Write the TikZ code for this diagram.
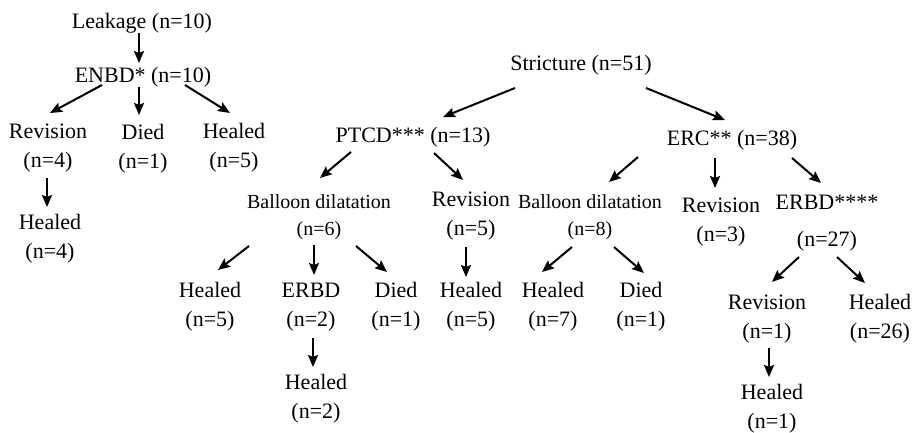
\documentclass[tikz,border=0pt]{standalone}
\usepackage{fontspec}
\setmainfont{Liberation Serif}
\usepackage{tikz}
\usetikzlibrary{arrows.meta, calc}

\begin{document}
\begin{tikzpicture}[
    x=1pt, y=-1pt,
    txt/.style={align=center, inner sep=0pt, font=\fontsize{22}{29}\selectfont},
    small/.style={align=center, inner sep=0pt, font=\fontsize{20}{27}\selectfont},
    conn/.style={black, line width=2pt, -{Stealth[length=12pt, width=10pt, inset=2pt]}}
]
\useasboundingbox (0,0) rectangle (913,433);

% ---------- Leakage ----------
\node[txt] (leak) at (142,23) {Leakage (n=10)};
\node[txt] (enbd) at (143,77) {ENBD* (n=10)};

\node[txt] (rev1)  at (48,148)  {Revision\\(n=4)};
\node[txt] (died1) at (143,149) {Died\\(n=1)};
\node[txt] (heal1) at (234,148) {Healed\\(n=5)};

\node[txt] (heal4) at (50,239) {Healed\\(n=4)};

% ---------- Stricture ----------
\node[txt] (strict) at (581,65) {Stricture (n=51)};
\node[txt] (ptcd) at (413,137) {PTCD*** (n=13)};
\node[txt] (erc)  at (732,140) {ERC** (n=38)};

% PTCD branch
\node[small] (bal6) at (319,217) {Balloon dilatation\\(n=6)};
\node[txt] (rev5)   at (471,216) {Revision\\(n=5)};

\node[txt] (heal5)  at (210,307) {Healed\\(n=5)};
\node[txt] (erbd2)  at (311,307) {ERBD\\(n=2)};
\node[txt] (died2)  at (396,307) {Died\\(n=1)};
\node[txt] (heal5b) at (471,307) {Healed\\(n=5)};

\node[txt] (heal2) at (316,399) {Healed\\(n=2)};

% ERC branch
\node[small] (bal8) at (590,217) {Balloon dilatation\\(n=8)};
\node[txt] (rev3)   at (721,222) {Revision\\(n=3)};
\node[txt] (erbd27) at (827,223) {ERBD****\\[8pt](n=27)};

\node[txt] (heal7) at (553,307) {Healed\\(n=7)};
\node[txt] (died3) at (641,307) {Died\\(n=1)};

\node[txt] (rev1b)  at (767,319) {Revision\\(n=1)};
\node[txt] (heal26) at (880,319) {Healed\\(n=26)};

\node[txt] (heal1b) at (772,409) {Healed\\(n=1)};

% ---------- Connections ----------
\foreach \s/\sx/\sy/\e/\ex/\ey in {
    leak/-3/10/enbd/-4/-14,
    enbd/-41/8/rev1/2/-35,
    enbd/-4/10/died1/-4/-34,
    enbd/42/8/heal1/-4/-35,
    rev1/-1/30/heal4/-3/-32,
    strict/-66/23/ptcd/30/-20,
    strict/65/23/erc/-7/-20,
    ptcd/-62/15/bal6/1/-39,
    ptcd/21/16/rev5/-8/-36,
    erc/-94/17/bal8/19/-35,
    erc/-17/18/rev3/-6/-34,
    erc/60/18/erbd27/-6/-40,
    bal6/-70/29/heal5/8/-37,
    bal6/-5/28/erbd2/3/-32,
    bal6/37/29/died2/-9/-35,
    rev5/-5/31/heal5b/-5/-30,
    bal8/-18/30/heal7/-11/-35,
    bal8/24/30/died3/3/-34,
    erbd27/-28/34/rev1b/5/-37,
    erbd27/10/34/heal26/-15/-36,
    erbd2/2/31/heal2/-3/-32,
    rev1b/2/29/heal1b/-3/-32}
    \draw[conn] ($(\s)+(\sx,\sy)$) -- ($(\e)+(\ex,\ey)$);

\end{tikzpicture}
\end{document}
